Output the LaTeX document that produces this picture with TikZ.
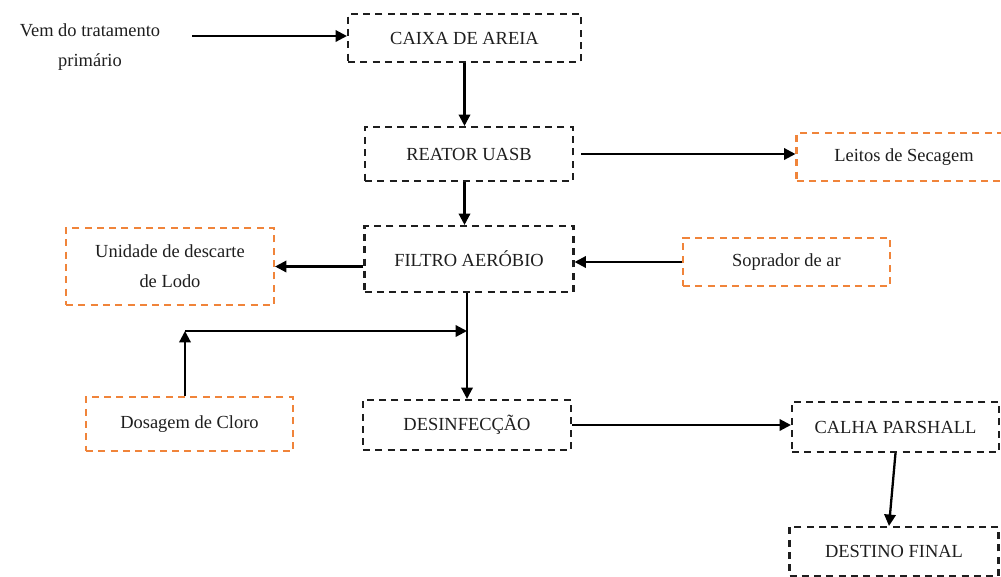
\documentclass[tikz,border=0pt]{standalone}
\usepackage{fontspec}
\setmainfont{Liberation Serif}
\usepackage{tikz}
\usetikzlibrary{arrows.meta}
\definecolor{laranja}{RGB}{240,132,58}
\definecolor{cinza}{RGB}{30,30,30}

\begin{document}
\begin{tikzpicture}[x=0.02cm,y=-0.02cm,
  caixa/.style={draw=cinza,line width=1.2pt,dash pattern=on 4pt off 3pt,
    minimum width=#1,inner sep=0pt,align=center,
    font=\fontsize{10.5}{17}\selectfont,text=cinza},
  caixalar/.style={caixa=#1,draw=laranja},
  fluxo/.style={line width=1.3pt,-{Triangle[length=6.5pt,width=6.5pt]}}]
\useasboundingbox (0,0) rectangle (1001,576);

\node[font=\fontsize{10.5}{17}\selectfont,align=center,text=cinza] (vem) at (90,47) {Vem do tratamento\\primário};
\node[caixa=4.66cm,minimum height=0.96cm] (areia) at (464.5,38) {CAIXA DE AREIA};
\node[caixa=4.16cm,minimum height=1.08cm] (uasb) at (469,154) {REATOR UASB};
\node[caixalar=4.3cm,minimum height=0.96cm] (leitos) at (904,157) {Leitos de Secagem};
\node[caixa=4.18cm,minimum height=1.32cm] (filtro) at (469,259) {FILTRO AERÓBIO};
\node[caixalar=4.16cm,minimum height=1.54cm] (lodo) at (170,266.5) {Unidade de descarte\\de Lodo};
\node[caixalar=4.14cm,minimum height=0.96cm] (soprador) at (786.5,262) {Soprador de ar};
\node[caixalar=4.14cm,minimum height=1.08cm] (cloro) at (189.5,424) {Dosagem de Cloro};
\node[caixa=4.16cm,minimum height=1.0cm] (desinf) at (467,425) {DESINFECÇÃO};
\node[caixa=4.14cm,minimum height=1.0cm] (calha) at (895.5,427) {CALHA PARSHALL};
\node[caixa=4.18cm,minimum height=0.98cm] (destino) at (894,551.5) {DESTINO FINAL};

\coordinate (entrada) at (192,36);
\coordinate (canto) at (185,331);

\draw[fluxo] (entrada) -- (entrada -| areia.west);
\draw[fluxo] (areia.south) -- (areia.south |- uasb.north);
\draw[fluxo] ([xshift=0.14cm]uasb.east) -- (uasb.east -| leitos.west);
\draw[fluxo] (uasb.south -| areia.south) -- (areia.south |- filtro.north);
\draw[fluxo] (filtro.west |- lodo.east) -- (lodo.east);
\draw[fluxo] (soprador.west) -- (soprador.west -| filtro.east);
\draw[fluxo] (filtro.south -| desinf.north) -- (desinf.north);
\draw[fluxo] (canto |- cloro.north) -- (canto);
\draw[fluxo] (canto) -- (canto -| desinf.north);
\draw[fluxo] (desinf.east) -- (desinf.east -| calha.west);
\draw[fluxo] (calha.south) -- ([xshift=-0.1cm]destino.north);
\end{tikzpicture}
\end{document}
